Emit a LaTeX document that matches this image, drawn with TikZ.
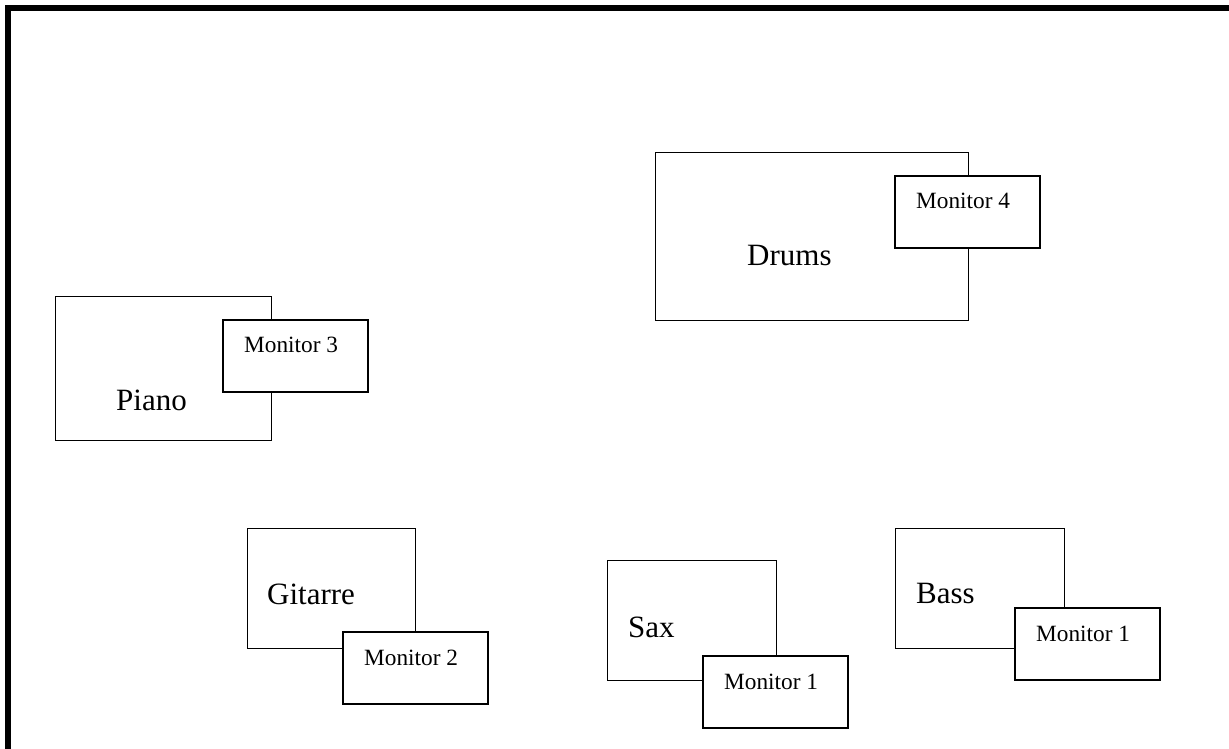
\documentclass[tikz,border=0pt]{standalone}
\usepackage{fontspec}
\setmainfont{Liberation Serif}

\tikzset{
    platz/.style={draw, line width=0.8pt, inner sep=0pt, outer sep=0pt, anchor=north west},
    monbox/.style={draw, fill=white, line width=1.6pt, inner sep=0pt, outer sep=0pt, anchor=north west,
        minimum width=145pt, minimum height=72pt},
    instname/.style={font=\fontsize{31}{36}\selectfont, inner sep=0pt, anchor=base west},
    monname/.style={font=\fontsize{23.3}{28}\selectfont, inner sep=0pt, anchor=base west},
}

\begin{document}
\begin{tikzpicture}[x=1pt, y=-1pt]
    \useasboundingbox (0,0) rectangle (1229,749);
    \draw[line width=6pt] (8,749) -- (8,8) -- (1229,8); %RAHMEN

    \node[platz, minimum width=313pt, minimum height=168pt] (drums) at (655,152) {};
    \node[instname] (drumsname) at ([shift={(92,113)}]drums.north west) {Drums};
    \node[monbox] (mon4) at (895,176) {};
    \node[monname] (mon4name) at ([shift={(21,32)}]mon4.north west) {Monitor 4};

    \node[platz, minimum width=216pt, minimum height=144pt] (piano) at (55,296) {};
    \node[instname] (pianoname) at ([shift={(61,114)}]piano.north west) {Piano};
    \node[monbox] (mon3) at (223,320) {};
    \node[monname] (mon3name) at ([shift={(21,32)}]mon3.north west) {Monitor 3};

    \node[platz, minimum width=168pt, minimum height=120pt] (gitarre) at (247,528) {};
    \node[instname] (gitarrename) at ([shift={(20,76)}]gitarre.north west) {Gitarre};
    \node[monbox] (mon2) at (343,632) {};
    \node[monname] (mon2name) at ([shift={(21,33)}]mon2.north west) {Monitor 2};

    \node[platz, minimum width=169pt, minimum height=120pt] (sax) at (607,560) {};
    \node[instname] (saxname) at ([shift={(21,77)}]sax.north west) {Sax};
    \node[monbox] (mon1sax) at (703,656) {};
    \node[monname] (mon1saxname) at ([shift={(21,33)}]mon1sax.north west) {Monitor 1};

    \node[platz, minimum width=169pt, minimum height=120pt] (bass) at (895,528) {};
    \node[instname] (bassname) at ([shift={(21,75)}]bass.north west) {Bass};
    \node[monbox] (mon1bass) at (1015,608) {};
    \node[monname] (mon1bassname) at ([shift={(21,33)}]mon1bass.north west) {Monitor 1};
\end{tikzpicture}
\end{document}
